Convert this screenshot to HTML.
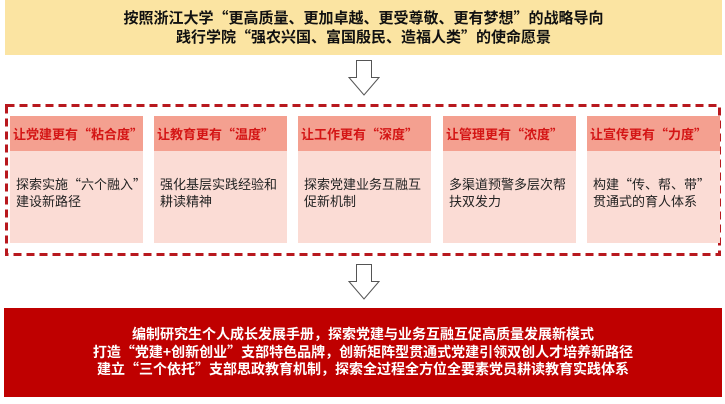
<!DOCTYPE html>
<html><head><meta charset="utf-8"><style>
body{margin:0;width:725px;height:404px;background:#fff;position:relative;overflow:hidden;font-family:"Noto Sans CJK SC","Liberation Sans",sans-serif}
.top{position:absolute;left:5px;top:0;width:717px;height:55px;background:#fbe4a2;text-align:center;font-weight:bold;font-size:15px;line-height:19px;color:#111;padding-top:8px;box-sizing:border-box}
.card{position:absolute;top:116px;width:133px;height:127px;background:#fbdcd5}
.card .h{height:35px;background:#f4a090;color:#d41515;font-weight:bold;font-size:13px;line-height:35px;padding-left:3px;white-space:nowrap}
.card .b{padding:24px 0 0 6px;font-size:13px;line-height:17px;color:#222;white-space:nowrap}
.bot{position:absolute;left:4px;top:308px;width:718px;height:89px;background:#bf0000;color:#fff;text-align:center;font-weight:bold;font-size:14px;line-height:17.5px;padding-top:18px;box-sizing:border-box}
svg{position:absolute}
</style></head><body>
<div class="top">按照浙江大学“更高质量、更加卓越、更受尊敬、更有梦想”的战略导向<br>践行学院“强农兴国、富国殷民、造福人类”的使命愿景</div>
<svg style="left:348px;top:60px" width="32" height="36"><path d="M8.5 0.5H23.5V17.5H31L16 35L1 17.5H8.5Z" fill="#fff" stroke="#555" stroke-width="1"/></svg>
<svg style="left:0;top:100px" width="725" height="160"><rect x="6.5" y="5.5" width="713" height="149" fill="none" stroke="#b8181e" stroke-width="3" stroke-dasharray="8 5"/></svg>
<div class="card" style="left:10px"><div class="h">让党建更有“粘合度”</div><div class="b">探索实施“六个融入”<br>建设新路径</div></div>
<div class="card" style="left:154px"><div class="h">让教育更有“温度”</div><div class="b">强化基层实践经验和<br>耕读精神</div></div>
<div class="card" style="left:298px"><div class="h">让工作更有“深度”</div><div class="b">探索党建业务互融互<br>促新机制</div></div>
<div class="card" style="left:443px"><div class="h">让管理更有“浓度”</div><div class="b">多渠道预警多层次帮<br>扶双发力</div></div>
<div class="card" style="left:587px"><div class="h">让宣传更有“力度”</div><div class="b">构建“传、帮、带”<br>贯通式的育人体系</div></div>
<svg style="left:348px;top:264px" width="32" height="36"><path d="M8.5 0.5H23.5V17.5H31L16 35L1 17.5H8.5Z" fill="#fff" stroke="#555" stroke-width="1"/></svg>
<div class="bot">编制研究生个人成长发展手册，探索党建与业务互融互促高质量发展新模式<br>打造“党建+创新创业”支部特色品牌，创新矩阵型贯通式党建引领双创人才培养新路径<br>建立“三个依托”支部思政教育机制，探索全过程全方位全要素党员耕读教育实践体系</div>
</body></html>
